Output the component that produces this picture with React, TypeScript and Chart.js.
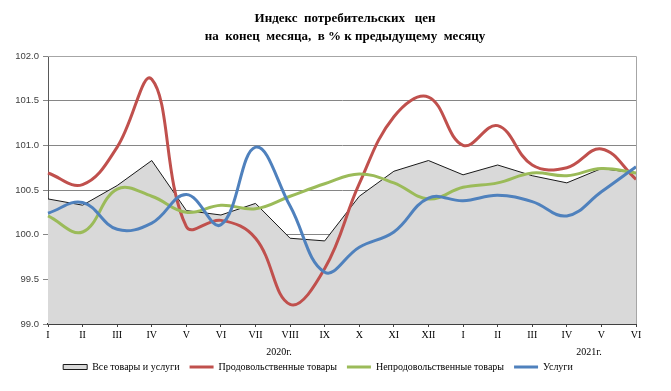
import React, { useEffect, useRef } from "react";
import { Chart, registerables } from "chart.js";

Chart.register(...registerables);

const months = ["I", "II", "III", "IV", "V", "VI", "VII", "VIII", "IX", "X", "XI", "XII", "I", "II", "III", "IV", "V", "VI"];
const allGoods = [100.40, 100.33, 100.55, 100.83, 100.27, 100.22, 100.35, 99.96, 99.93, 100.43, 100.71, 100.83, 100.67, 100.78, 100.66, 100.58, 100.74, 100.69];
const food = [100.69, 100.56, 100.98, 101.74, 100.09, 100.16, 99.96, 99.22, 99.62, 100.57, 101.32, 101.54, 101.00, 101.22, 100.78, 100.75, 100.96, 100.62];
const nonFood = [100.21, 100.03, 100.51, 100.43, 100.25, 100.33, 100.29, 100.43, 100.57, 100.68, 100.58, 100.40, 100.53, 100.58, 100.69, 100.66, 100.74, 100.69];
const services = [100.24, 100.36, 100.06, 100.13, 100.45, 100.11, 100.98, 100.32, 99.58, 99.86, 100.03, 100.41, 100.38, 100.44, 100.37, 100.21, 100.48, 100.76];
const seriesNames = ["Все товары и услуги", "Продовольственные товары", "Непродовольственные товары", "Услуги"];
const titleLines = ["Индекс  потребительских   цен", "на  конец  месяца,  в % к предыдущему  месяцу"];
const yearLabels = ["2020г.", "2021г."];
const yearPositions = [6.68, 15.64];

const serif = "'Liberation Serif', 'Times New Roman', serif";
const sans = "'Liberation Sans', Arial, sans-serif";

const framePlugin = {
  id: "frameAndYears",
  afterDatasetsDraw(chart: any) {
    const { ctx, chartArea } = chart;
    ctx.save();
    ctx.strokeStyle = "#a6a6a6";
    ctx.lineWidth = 1;
    ctx.beginPath();
    ctx.moveTo(chartArea.left, chartArea.top + 0.5);
    ctx.lineTo(chartArea.right + 0.5, chartArea.top + 0.5);
    ctx.lineTo(chartArea.right + 0.5, chartArea.bottom);
    ctx.stroke();
    ctx.restore();
  },
  afterDraw(chart: any) {
    const { ctx } = chart;
    const xs = chart.scales.x;
    ctx.save();
    ctx.fillStyle = "#000";
    ctx.textAlign = "center";
    ctx.textBaseline = "middle";
    ctx.font = `bold 13px ${serif}`;
    titleLines.forEach((t, i) => {
      ctx.fillText(t, 345, 19 + i * 18);
    });
    ctx.font = `10px ${serif}`;
    yearLabels.forEach((t, i) => {
      ctx.fillText(t, xs.getPixelForValue(yearPositions[i]), xs.top + 28);
    });
    ctx.restore();
  },
};

export default function App() {
  const ref = useRef<HTMLCanvasElement>(null);
  useEffect(() => {
    document.body.style.margin = "0";
    const chart = new Chart(ref.current as HTMLCanvasElement, {
      type: "line",
      data: {
        labels: months,
        datasets: [
          {
            label: seriesNames[0],
            data: allGoods,
            borderColor: "#1a1a1a",
            borderWidth: 1,
            backgroundColor: "#d9d9d9",
            fill: "start",
            tension: 0,
            pointRadius: 0,
            pointStyle: "rect",
            order: 10,
          },
          {
            label: seriesNames[1],
            data: food,
            borderColor: "#c0504d",
            backgroundColor: "#c0504d",
            borderWidth: 3,
            tension: 0.4,
            pointRadius: 0,
            pointStyle: "line",
            fill: false,
            order: 3,
          },
          {
            label: seriesNames[2],
            data: nonFood,
            borderColor: "#9bbb59",
            backgroundColor: "#9bbb59",
            borderWidth: 3,
            tension: 0.4,
            pointRadius: 0,
            pointStyle: "line",
            fill: false,
            order: 2,
          },
          {
            label: seriesNames[3],
            data: services,
            borderColor: "#4f81bd",
            backgroundColor: "#4f81bd",
            borderWidth: 3,
            tension: 0.4,
            pointRadius: 0,
            pointStyle: "line",
            fill: false,
            order: 1,
          },
        ],
      },
      options: {
        responsive: false,
        animation: false,
        layout: { padding: { left: 0, right: 35, top: 56, bottom: 9 } },
        plugins: {
          title: { display: false },
          legend: {
            position: "bottom",
            labels: {
              usePointStyle: true,
              pointStyleWidth: 24,
              boxHeight: 5,
              color: "#000",
              padding: 10,
              font: { family: serif, size: 10 },
              sort: (a: any, b: any) => a.datasetIndex - b.datasetIndex,
            },
          },
          tooltip: { enabled: false },
        },
        scales: {
          x: {
            offset: false,
            grid: { drawOnChartArea: false, tickLength: 3, color: "#404040" },
            border: { color: "#404040", width: 2 },
            ticks: {
              color: "#000",
              font: { family: serif, size: 10 },
              maxRotation: 0,
              autoSkip: false,
              padding: 2,
            },
            afterFit: (scale: any) => {
              scale.height = 28;
            },
          },
          y: {
            min: 99,
            max: 102,
            grid: { color: "#868686", tickLength: 5 },
            border: { color: "#595959", width: 1 },
            ticks: {
              stepSize: 0.5,
              color: "#404040",
              font: { family: sans, size: 9.5 },
              padding: 4,
              callback: (v: any) => Number(v).toFixed(1),
            },
            afterFit: (scale: any) => {
              scale.width = 48;
            },
          },
        },
      },
      plugins: [framePlugin],
    });
    return () => chart.destroy();
  }, []);
  return (
    <div style={{ width: 671, height: 391, background: "#fff" }}>
      <canvas ref={ref} width={671} height={391} />
    </div>
  );
}
